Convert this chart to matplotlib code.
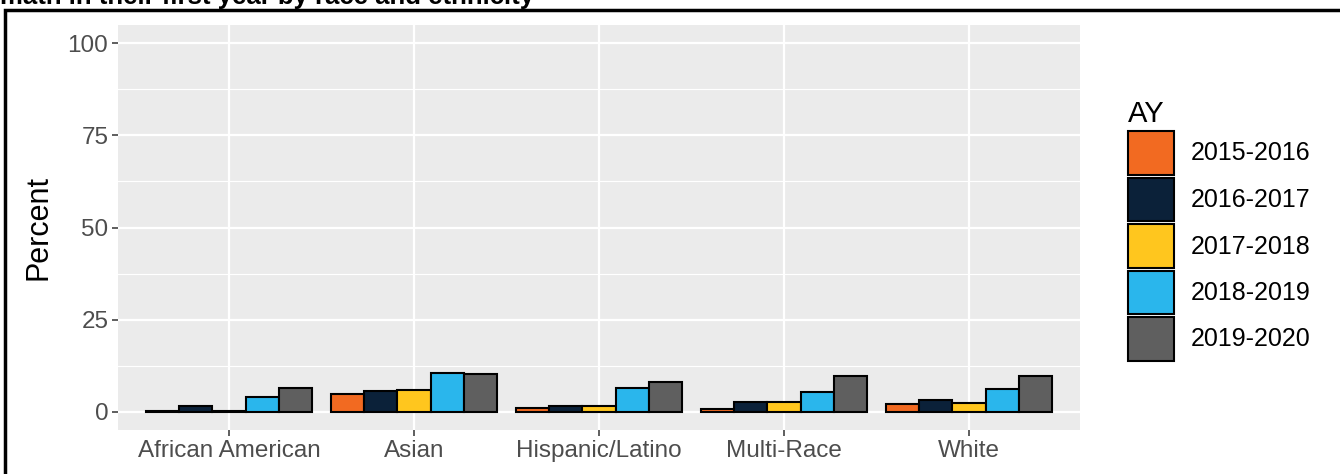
import matplotlib.pyplot as plt
import matplotlib.patches as mpatches
import numpy as np

plt.rcParams['font.family'] = ['Liberation Sans', 'DejaVu Sans']

# data
groups = ['African American', 'Asian', 'Hispanic/Latino', 'Multi-Race', 'White']
years = ['2015-2016', '2016-2017', '2017-2018', '2018-2019', '2019-2020']
colors = ['#F26A21', '#0B2139', '#FFC61E', '#2AB6EC', '#5F5F5F']
pct_2015 = [0.2, 4.9, 1.1, 0.7, 2.0]
pct_2016 = [1.5, 5.6, 1.6, 2.6, 3.2]
pct_2017 = [0.2, 5.9, 1.4, 2.7, 2.3]
pct_2018 = [3.9, 10.5, 6.3, 5.4, 6.1]
pct_2019 = [6.3, 10.2, 8.1, 9.8, 9.8]
series = [pct_2015, pct_2016, pct_2017, pct_2018, pct_2019]

W, H = 1340, 474
fig = plt.figure(figsize=(W / 100, H / 100), dpi=100)
ax = fig.add_axes([118 / W, 1 - 430 / H, (1080 - 118) / W, (430 - 25) / H])

ax.set_facecolor('#EBEBEB')
x = np.arange(len(groups))
bw = 0.9 / len(years)
for i, (vals, c, yr) in enumerate(zip(series, colors, years)):
    ax.bar(x + (i - 2) * bw, vals, width=bw, color=c, edgecolor='black',
           linewidth=1.5, label=yr, zorder=3)

ax.set_xlim(-0.6, len(groups) - 0.4)
ax.set_ylim(-5, 105)
ax.set_yticks([0, 25, 50, 75, 100])
ax.set_yticks([12.5, 37.5, 62.5, 87.5], minor=True)
ax.set_xticks(x)
ax.set_xticklabels(groups)
ax.grid(which='major', color='white', linewidth=1.6, zorder=0)
ax.grid(which='minor', axis='y', color='white', linewidth=0.8, zorder=0)
ax.set_axisbelow(True)
for s in ax.spines.values():
    s.set_visible(False)
ax.tick_params(which='major', length=4, width=1.1, color='#333333',
               labelcolor='#4D4D4D', labelsize=17.5, pad=3)
ax.tick_params(which='minor', length=0)
ax.set_ylabel('Percent', fontsize=22, color='black', labelpad=10)

handles = [mpatches.Patch(facecolor=c, edgecolor='black', linewidth=1.5) for c in colors]
leg = fig.legend(handles, years, loc='upper left', bbox_to_anchor=(1128 / W, 1 - 100 / H),
                 frameon=False, fontsize=18, title='AY', title_fontsize=21,
                 alignment='left', handlelength=1.85, handleheight=2.3,
                 labelspacing=0.12, handletextpad=0.65, borderpad=0, borderaxespad=0)

# title cut off at the top of the crop
fig.text(0.0, 1 - 4 / H, 'math in their first year by race and ethnicity',
         fontsize=18.5, fontweight='bold', ha='left', va='baseline')

# outer frame
fig.patches.append(mpatches.Rectangle((5 / W, -0.2), 1.2, 1 - 10 / H + 0.2,
                                      transform=fig.transFigure, fill=False,
                                      edgecolor='black', linewidth=2.5))

fig.savefig('out.png', dpi=100)
